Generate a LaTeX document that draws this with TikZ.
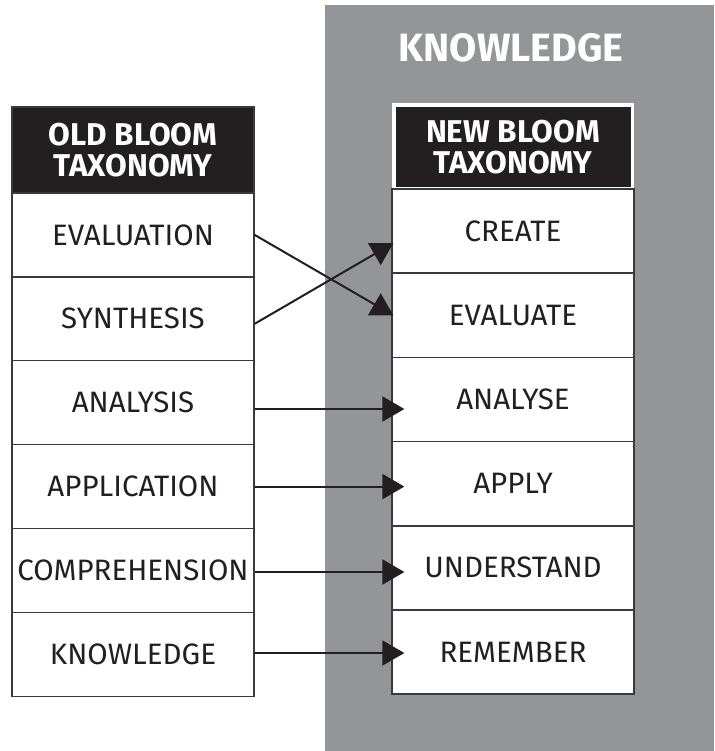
\documentclass[tikz,border=0pt]{standalone}
\usepackage{fontspec}
\setmainfont{Fira Sans}
\usetikzlibrary{arrows.meta}
\definecolor{panelgray}{HTML}{939598}
\definecolor{ink}{HTML}{231F20}
\definecolor{rulecol}{HTML}{3A3A3C}

\begin{document}
\begin{tikzpicture}[x=1pt,y=-1pt,
  cell/.style={draw=rulecol,line width=1.3pt,fill=white,text=ink,
    minimum width=242pt,minimum height=83.9pt,inner sep=0pt,
    font=\fontsize{29.5}{29.5}\selectfont},
  headcell/.style={fill=ink,text=white,align=center,inner sep=0pt,
    font=\bfseries\fontsize{31.5}{31.5}\selectfont},
  arr/.style={draw=ink,line width=2pt,-{Triangle[length=22pt,width=25pt]}}
]
\useasboundingbox (0,0) rectangle (714,751);
\fill[white] (0,0) rectangle (714,751);
% grey knowledge panel
\fill[panelgray] (325,5) rectangle (714,751);
\node[text=white,font=\bfseries\fontsize{39.5}{39.5}\selectfont,inner sep=0pt] (title) at (511,48) {KNOWLEDGE};

% old taxonomy column
\node[headcell,draw=rulecol,line width=1.3pt,minimum width=242pt,minimum height=86pt] (lh) at (133,150) {OLD BLOOM\\TAXONOMY};
\node[cell] (l1) at (133,234.9) {EVALUATION};
\node[cell] (l2) at (133,318.8) {SYNTHESIS};
\node[cell] (l3) at (133,402.7) {ANALYSIS};
\node[cell] (l4) at (133,486.6) {APPLICATION};
\node[cell] (l5) at (133,570.5) {COMPREHENSION};
\node[cell] (l6) at (133,654.4) {KNOWLEDGE};

% new taxonomy column
\node[headcell,draw=white,line width=3.5pt,minimum width=238.5pt,minimum height=84pt] (rh) at (513,147) {NEW BLOOM\\TAXONOMY};
\node[cell] (r1) at (513,231.1) {CREATE};
\node[cell] (r2) at (513,315.3) {EVALUATE};
\node[cell] (r3) at (513,399.4) {ANALYSE};
\node[cell] (r4) at (513,483.6) {APPLY};
\node[cell] (r5) at (513,567.8) {UNDERSTAND};
\node[cell] (r6) at (513,651.9) {REMEMBER};

% connectors
\draw[arr] (l1.east) -- ([xshift=2pt]r2.west);
\draw[arr] ([yshift=-5pt]l2.east) -- ([xshift=2pt,yshift=-12pt]r1.west);
\draw[arr,shorten >=-13pt] ([yshift=-6.3pt]l3.east) -- ([yshift=-6.3pt]l3.east -| r3.west);
\draw[arr,shorten >=-13pt] (l4.east) -- (l4.east -| r4.west);
\draw[arr,shorten >=-13pt] ([yshift=-1.5pt]l5.east) -- ([yshift=-1.5pt]l5.east -| r5.west);
\draw[arr,shorten >=-13pt] ([yshift=1.4pt]l6.east) -- ([yshift=1.4pt]l6.east -| r6.west);
\end{tikzpicture}
\end{document}
